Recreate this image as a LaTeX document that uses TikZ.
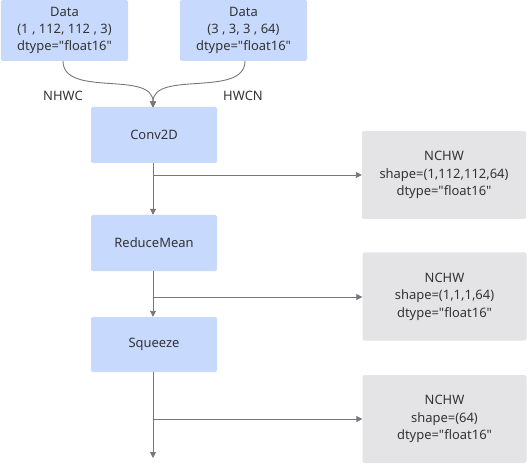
\documentclass[tikz,border=0pt]{standalone}
\usepackage{fontspec}
\setmainfont{Noto Sans}[Ligatures=TeXOff]
\usetikzlibrary{arrows.meta,positioning}
\definecolor{opblue}{HTML}{C7D9FD}
\definecolor{outgray}{HTML}{E4E4E7}
\definecolor{linegray}{HTML}{77777A}
\definecolor{txtgray}{HTML}{333333}

\begin{document}
\begin{tikzpicture}[x=1bp,y=-1bp,>={Triangle[width=6bp,length=6bp]},
  every node/.style={font=\fontsize{13}{17.5}\selectfont,text=txtgray,align=center},
  op/.style={fill=opblue,rounded corners=2bp,minimum width=126bp,minimum height=56bp},
  outbox/.style={fill=outgray,rounded corners=2bp,minimum width=164bp,minimum height=88bp},
  flow/.style={draw=linegray,line width=0.9bp}]
  \useasboundingbox (0,0) rectangle (528,465);
  % inputs
  \node[op,minimum height=61bp,minimum width=127bp] (d1) at (64.5,30.5)
    {Data\\(1 , 112, 112 , 3)\\dtype="float16"};
  \node[op,minimum height=61bp,minimum width=127bp] (d2) at (243.5,30.5)
    {Data\\(3 , 3, 3 , 64)\\dtype="float16"};
  \node (fmt1) at (63,96) {NHWC};
  \node (fmt2) at (243,96) {HWCN};
  % operators
  \node[op] (conv) at (154,135) {Conv2D};
  \node[op] (mean) at (154,243) {ReduceMean};
  \node[op,minimum height=55bp] (squeeze) at (154,344.5) {Squeeze};
  % outputs
  \node[outbox] (o1) at (444,175) {NCHW\\shape=(1,112,112,64)\\dtype="float16"};
  \node[outbox] (o2) at (444.5,296.5) {NCHW\\shape=(1,1,1,64)\\dtype="float16"};
  \node[outbox] (o3) at (444.5,419) {NCHW\\shape=(64)\\dtype="float16"};
  \coordinate (c1) at (153,175);
  \coordinate (c2) at (153,297);
  \coordinate (c3) at (153,419);
  \coordinate (end) at (153,458);
  \coordinate (top) at (153,107.5);
  \coordinate (s1) at (63,61);
  \coordinate (s2) at (245,61);
  % edges
  \draw[flow,->] (s1) .. controls (63,98) and (153,70) .. (top);
  \draw[flow,->] (s2) .. controls (245,98) and (153,70) .. (top);
  \draw[flow,->] (conv.south -| top) -- (mean.north -| top);
  \draw[flow,->] (mean.south -| top) -- (squeeze.north -| top);
  \draw[flow,->] (squeeze.south -| top) -- (end);
  \draw[flow,->] (c1) -- (o1.west |- c1);
  \draw[flow,->] (c2) -- (o2.west |- c2);
  \draw[flow,->] (c3) -- (o3.west |- c3);
\end{tikzpicture}
\end{document}
